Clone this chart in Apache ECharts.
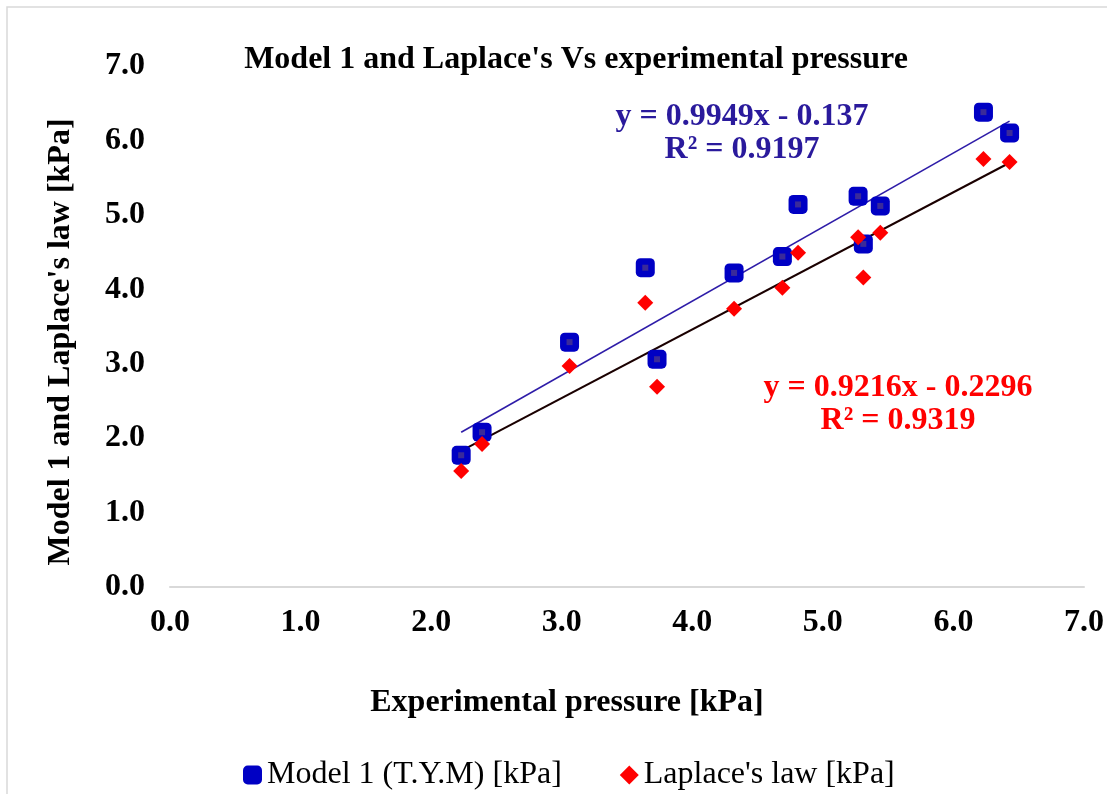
<!DOCTYPE html>
<html>
<head>
<meta charset="utf-8">
<script src="https://cdn.jsdelivr.net/npm/echarts@6/dist/echarts.min.js"></script>
<style>
html,body{margin:0;padding:0;background:#fff;}
#chart{width:1107px;height:794px;}
</style>
</head>
<body>
<div id="chart"></div>
<script>
// Experimental pressure [kPa]
const expPressure = [2.23, 2.39, 3.06, 3.64, 3.73, 4.32, 4.69, 4.81, 5.27, 5.31, 5.44, 6.23, 6.43];
// Model 1 (T.Y.M) [kPa]
const model1 = [1.77, 2.08, 3.29, 4.29, 3.06, 4.22, 4.44, 5.14, 5.25, 4.61, 5.12, 6.38, 6.10];
// Laplace's law [kPa]
const laplace = [1.56, 1.92, 2.97, 3.82, 2.69, 3.74, 4.02, 4.49, 4.70, 4.16, 4.76, 5.75, 5.71];
// Trendline endpoints [x, y]
const model1Trend = [[2.23, 2.08], [6.43, 6.26]];
const laplaceTrend = [[2.23, 1.83], [6.43, 5.70]];
const axisTicks = ['0.0','1.0','2.0','3.0','4.0','5.0','6.0','7.0'];
const model1Eq = ['y = 0.9949x - 0.137', 'R² = 0.9197'];
const laplaceEq = ['y = 0.9216x - 0.2296', 'R² = 0.9319'];
const titleText = "Model 1 and Laplace's Vs experimental pressure";
const xName = 'Experimental pressure [kPa]';
const yName = "Model 1 and Laplace's law [kPa]";
const seriesNames = ['Model 1 (T.Y.M) [kPa]', "Laplace's law [kPa]"];

const font = 'Liberation Serif';
const chart = echarts.init(document.getElementById('chart'));
const pts = (ys) => expPressure.map((x, i) => [x, ys[i]]);

chart.setOption({
  animation: false,
  backgroundColor: '#fff',
  title: {
    text: titleText,
    left: 571, top: 39, textAlign: 'center',
    textStyle: {fontFamily: font, fontWeight: 'bold', fontSize: 32, color: '#000'}
  },
  grid: {left: 170, right: 23, top: 66, bottom: 207},
  xAxis: {
    type: 'value', min: 0, max: 7, interval: 1,
    axisLine: {show: true, lineStyle: {color: '#d9d9d9', width: 2}},
    axisTick: {show: false},
    splitLine: {show: false},
    axisLabel: {formatter: (v) => axisTicks[Math.round(v)], margin: 20,
      fontFamily: font, fontWeight: 'bold', fontSize: 32, color: '#000'}
  },
  yAxis: {
    type: 'value', min: 0, max: 7, interval: 1,
    axisLine: {show: false},
    axisTick: {show: false},
    splitLine: {show: false},
    axisLabel: {formatter: (v) => axisTicks[Math.round(v)], margin: 25,
      fontFamily: font, fontWeight: 'bold', fontSize: 32, color: '#000'}
  },
  legend: {
    top: 754, left: 238, itemGap: 58, itemWidth: 19, itemHeight: 19,
    textStyle: {fontFamily: font, fontSize: 32, color: '#000'},
    data: [
      {name: seriesNames[0], icon: 'roundRect'},
      {name: seriesNames[1], icon: 'diamond'}
    ]
  },
  graphic: [
    {type: 'rect', shape: {x: 7, y: 7, width: 1200, height: 900},
     style: {fill: 'none', stroke: '#d9d9d9', lineWidth: 1.5}, silent: true},
    {type: 'text', x: 567, y: 703, style: {text: xName, fill: '#000',
      font: 'bold 32px "Liberation Serif"', align: 'center', verticalAlign: 'middle'}},
    {type: 'text', x: 61, y: 342, rotation: Math.PI / 2, style: {text: yName, fill: '#000',
      font: 'bold 32px "Liberation Serif"', align: 'center', verticalAlign: 'middle'}},
    {type: 'text', x: 742, y: 133, style: {text: model1Eq.join('\n'), fill: '#2a1a9c',
      font: 'bold 32px "Liberation Serif"', align: 'center', verticalAlign: 'middle', lineHeight: 33}},
    {type: 'text', x: 898, y: 404, style: {text: laplaceEq.join('\n'), fill: '#ff0000',
      font: 'bold 32px "Liberation Serif"', align: 'center', verticalAlign: 'middle', lineHeight: 33}}
  ],
  series: [
    {name: 'trend1', type: 'line', data: model1Trend, symbol: 'none', silent: true,
     lineStyle: {color: '#2e1ca8', width: 1.6}, z: 2},
    {name: 'trend2', type: 'line', data: laplaceTrend, symbol: 'none', silent: true,
     lineStyle: {color: '#1a0000', width: 2}, z: 2},
    {name: seriesNames[0], type: 'scatter', data: pts(model1), symbol: 'roundRect', symbolSize: 19,
     itemStyle: {color: '#0000c4', opacity: 1}, z: 3},
    {name: 'model1Core', type: 'scatter', data: pts(model1), symbol: 'rect', symbolSize: 6, silent: true,
     itemStyle: {color: '#3a2a9a', opacity: 1}, z: 3.5},
    {name: seriesNames[1], type: 'scatter', data: pts(laplace), symbol: 'diamond', symbolSize: 16,
     itemStyle: {color: '#ff0000', opacity: 1}, z: 4}
  ]
});
</script>
</body>
</html>
